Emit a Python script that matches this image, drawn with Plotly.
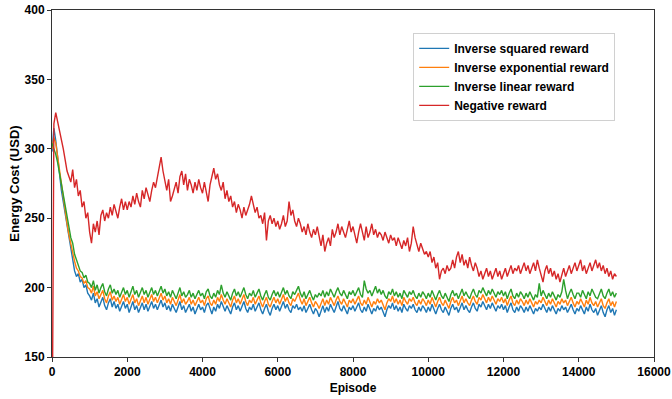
import plotly.graph_objects as go

# episodes sampled every 50
episodes = list(range(0, 15001, 50))

inverse_squared = [
    298, 315, 306, 292, 282, 270, 262, 252, 244, 236, 228, 222, 212, 208, 210, 204, 206, 200, 202, 196,
    194, 191, 196, 189, 192, 186, 190, 193, 187, 184, 189, 192, 186, 190, 185, 188, 183, 187, 190, 185,
    188, 182, 186, 190, 184, 187, 182, 186, 189, 184, 188, 183, 186, 190, 185, 188, 184, 187, 191, 186,
    189, 184, 187, 183, 188, 185, 182, 186, 190, 184, 187, 182, 185, 188, 183, 186, 181, 185, 188, 184,
    186, 182, 187, 189, 184, 181, 186, 183, 188, 185, 190, 186, 183, 187, 184, 181, 186, 189, 184, 187,
    183, 187, 190, 185, 182, 186, 184, 188, 183, 186, 189, 184, 181, 185, 188, 183, 180, 185, 188, 184,
    187, 183, 186, 190, 185, 188, 184, 182, 187, 185, 188, 184, 186, 183, 187, 182, 185, 188, 184, 181,
    185, 183, 179, 184, 187, 182, 186, 183, 188, 185, 182, 186, 190, 185, 183, 187, 184, 181, 186, 184,
    187, 183, 186, 189, 184, 182, 186, 183, 188, 185, 181, 185, 183, 187, 184, 186, 182, 179, 184, 187,
    185, 189, 184, 187, 183, 186, 182, 188, 185, 183, 187, 185, 188, 184, 182, 186, 183, 187, 185, 182,
    186, 183, 188, 185, 181, 185, 188, 184, 182, 186, 183, 180, 185, 188, 184, 186, 182, 186, 189, 184,
    187, 184, 182, 186, 189, 185, 183, 188, 186, 190, 187, 184, 188, 185, 189, 186, 183, 187, 185, 188,
    184, 187, 182, 186, 189, 184, 182, 186, 183, 187, 185, 182, 186, 183, 187, 184, 181, 185, 183, 186,
    184, 188, 185, 182, 186, 183, 187, 184, 181, 185, 183, 187, 184, 186, 182, 185, 188, 184, 181, 185,
    183, 187, 184, 181, 186, 183, 188, 184, 182, 185, 180, 184, 187, 182, 179, 184, 187, 182, 185, 180,
    184,
]

inverse_exponential = [
    300, 308, 304, 294, 284, 272, 264, 255, 246, 238, 231, 226, 219, 214, 212, 208, 207, 203, 205, 200,
    199, 196, 201, 194, 197, 192, 195, 198, 192, 189, 194, 197, 191, 194, 190, 193, 188, 192, 195, 190,
    193, 188, 191, 195, 189, 192, 187, 191, 194, 189, 193, 188, 191, 195, 190, 193, 189, 192, 196, 191,
    194, 189, 192, 188, 193, 190, 187, 191, 195, 189, 192, 188, 190, 193, 188, 191, 187, 190, 193, 189,
    191, 187, 192, 194, 189, 187, 191, 188, 193, 190, 195, 191, 188, 192, 189, 186, 191, 194, 189, 192,
    188, 192, 195, 190, 187, 191, 189, 193, 188, 191, 194, 189, 186, 190, 193, 188, 186, 190, 193, 189,
    192, 188, 191, 195, 190, 193, 189, 187, 192, 190, 193, 196, 191, 188, 192, 187, 190, 193, 189, 186,
    190, 188, 185, 189, 192, 187, 191, 188, 193, 190, 187, 191, 194, 190, 188, 192, 189, 186, 191, 189,
    192, 188, 191, 194, 189, 187, 191, 188, 193, 190, 186, 190, 188, 192, 189, 191, 187, 184, 189, 192,
    190, 194, 189, 192, 188, 191, 187, 193, 190, 188, 192, 190, 193, 189, 187, 191, 188, 192, 190, 187,
    191, 188, 193, 190, 186, 190, 193, 189, 187, 191, 188, 185, 190, 193, 189, 191, 187, 191, 194, 189,
    192, 189, 187, 191, 194, 190, 188, 193, 191, 195, 192, 189, 193, 190, 194, 191, 188, 192, 190, 193,
    189, 192, 187, 191, 194, 189, 187, 191, 188, 192, 190, 187, 191, 188, 192, 189, 186, 190, 188, 191,
    189, 193, 190, 187, 191, 188, 192, 189, 186, 190, 188, 192, 189, 191, 187, 190, 193, 189, 186, 190,
    188, 192, 189, 186, 191, 188, 193, 189, 187, 190, 186, 189, 192, 187, 185, 189, 192, 187, 190, 186,
    190,
]

inverse_linear = [
    304, 300, 296, 290, 282, 274, 266, 258, 250, 242, 236, 232, 224, 220, 216, 212, 211, 207, 209, 204,
    203, 200, 205, 198, 202, 196, 200, 203, 197, 194, 199, 202, 196, 199, 195, 198, 193, 197, 200, 195,
    198, 193, 197, 201, 195, 198, 193, 197, 200, 195, 198, 193, 196, 200, 195, 198, 194, 197, 201, 196,
    199, 194, 197, 193, 198, 195, 192, 196, 200, 194, 197, 193, 195, 198, 193, 196, 192, 195, 198, 194,
    196, 192, 197, 199, 194, 192, 196, 193, 198, 195, 202, 196, 193, 197, 194, 191, 196, 199, 194, 197,
    193, 197, 200, 195, 192, 196, 194, 198, 193, 196, 199, 194, 191, 195, 198, 193, 191, 195, 198, 194,
    197, 193, 196, 200, 195, 198, 194, 192, 197, 195, 198, 201, 196, 193, 197, 192, 195, 198, 194, 191,
    195, 193, 196, 194, 198, 193, 197, 194, 199, 196, 193, 197, 200, 196, 194, 198, 195, 192, 197, 195,
    198, 194, 197, 200, 195, 193, 205, 199, 196, 198, 194, 198, 201, 196, 199, 195, 198, 194, 192, 197,
    195, 199, 194, 197, 193, 196, 192, 198, 195, 193, 197, 195, 198, 194, 192, 196, 193, 197, 195, 192,
    196, 193, 198, 195, 191, 195, 198, 194, 192, 196, 193, 190, 195, 198, 194, 196, 192, 196, 199, 194,
    197, 194, 192, 196, 199, 195, 193, 198, 196, 200, 197, 194, 198, 195, 199, 196, 193, 197, 195, 198,
    194, 197, 192, 196, 199, 194, 192, 196, 193, 197, 195, 192, 196, 193, 197, 194, 191, 195, 193, 203,
    194, 198, 195, 192, 196, 193, 197, 194, 191, 195, 193, 197, 206, 198, 192, 196, 199, 195, 192, 196,
    196, 193, 198, 195, 192, 197, 194, 199, 196, 193, 192, 196, 199, 194, 192, 196, 199, 194, 197, 193,
    196,
]

negative = [
    60, 318, 326, 320, 314, 308, 300, 292, 284, 280, 276, 285, 272, 278, 266, 270, 258, 262, 250, 254,
    240, 232, 246, 240, 248, 238, 252, 256, 248, 254, 250, 258, 252, 260, 254, 250, 258, 264, 256, 262,
    256, 262, 258, 266, 260, 268, 262, 258, 270, 264, 272, 266, 262, 270, 276, 272, 280, 286, 294, 284,
    276, 270, 278, 262, 266, 272, 276, 268, 280, 284, 274, 282, 270, 278, 274, 268, 276, 270, 278, 272,
    268, 276, 270, 262, 274, 280, 286, 278, 282, 274, 270, 276, 264, 270, 262, 266, 258, 262, 254, 260,
    256, 250, 258, 252, 256, 260, 266, 260, 254, 258, 250, 252, 246, 254, 234, 248, 252, 246, 250, 244,
    248, 242, 246, 252, 244, 248, 262, 252, 256, 248, 244, 250, 246, 240, 244, 238, 246, 240, 236, 242,
    238, 244, 236, 230, 238, 226, 232, 236, 230, 242, 236, 240, 246, 238, 244, 240, 236, 242, 248, 240,
    244, 238, 232, 240, 246, 240, 234, 244, 236, 240, 246, 238, 242, 236, 240, 238, 234, 240, 236, 232,
    238, 234, 236, 230, 236, 232, 228, 234, 230, 236, 226, 232, 244, 236, 230, 226, 232, 228, 224, 226,
    222, 226, 218, 222, 214, 218, 206, 212, 214, 210, 216, 212, 214, 220, 214, 222, 226, 218, 224, 216,
    220, 214, 222, 216, 212, 218, 214, 208, 212, 206, 210, 214, 208, 212, 206, 210, 214, 208, 212, 206,
    210, 214, 208, 212, 216, 210, 214, 212, 216, 210, 214, 218, 212, 216, 210, 214, 218, 212, 220, 214,
    208, 204, 212, 216, 210, 214, 208, 212, 206, 210, 204, 210, 214, 208, 212, 216, 210, 214, 218, 212,
    216, 220, 212, 216, 210, 214, 218, 212, 216, 220, 214, 218, 212, 216, 210, 214, 208, 212, 206, 210,
    208,
]

series_names = ["Inverse squared reward", "Inverse exponential reward",
                "Inverse linear reward", "Negative reward"]
series_values = [inverse_squared, inverse_exponential, inverse_linear, negative]
series_colors = ["#1f77b4", "#ff7f0e", "#2ca02c", "#d62728"]

x_ticks = [0, 2000, 4000, 6000, 8000, 10000, 12000, 14000, 16000]
y_ticks = [150, 200, 250, 300, 350, 400]

FONT = "Liberation Sans, Arial, sans-serif"

fig = go.Figure()
for name, vals, col in zip(series_names, series_values, series_colors):
    fig.add_trace(go.Scatter(x=episodes, y=vals, mode="lines", name=name,
                             line=dict(color=col, width=1.4)))

tick_font = dict(family=FONT, size=12, color="#000000", weight="bold")
axis_common = dict(showgrid=False, zeroline=False, showline=True, linecolor="#333333",
                   linewidth=1, mirror=True, ticks="outside", ticklen=4,
                   tickcolor="#333333", tickfont=tick_font, automargin=False)
fig.update_xaxes(range=[0, 16000], tickvals=x_ticks, ticktext=[str(v) for v in x_ticks],
                 title=dict(text="Episode", font=dict(family=FONT, size=12, color="#000000",
                                                     weight="bold"), standoff=5),
                 **axis_common)
fig.update_yaxes(range=[150, 400], tickvals=y_ticks, ticktext=[str(v) for v in y_ticks],
                 title=dict(text="Energy Cost (USD)", font=dict(family=FONT, size=13,
                                                               color="#000000", weight="bold"),
                            standoff=2),
                 **axis_common)

fig.update_layout(
    width=672, height=399,
    margin=dict(l=52, r=18, t=10, b=42),
    paper_bgcolor="white", plot_bgcolor="white",
    font=dict(family=FONT, size=12, color="#000000"),
    legend=dict(x=0.6, y=0.934, xanchor="left", yanchor="top",
                bgcolor="white", bordercolor="#d0d0d0", borderwidth=1,
                font=dict(family=FONT, size=12, color="#000000", weight="bold"),
                itemwidth=30, tracegroupgap=0),
    showlegend=True,
)

fig.write_html("out.html")
